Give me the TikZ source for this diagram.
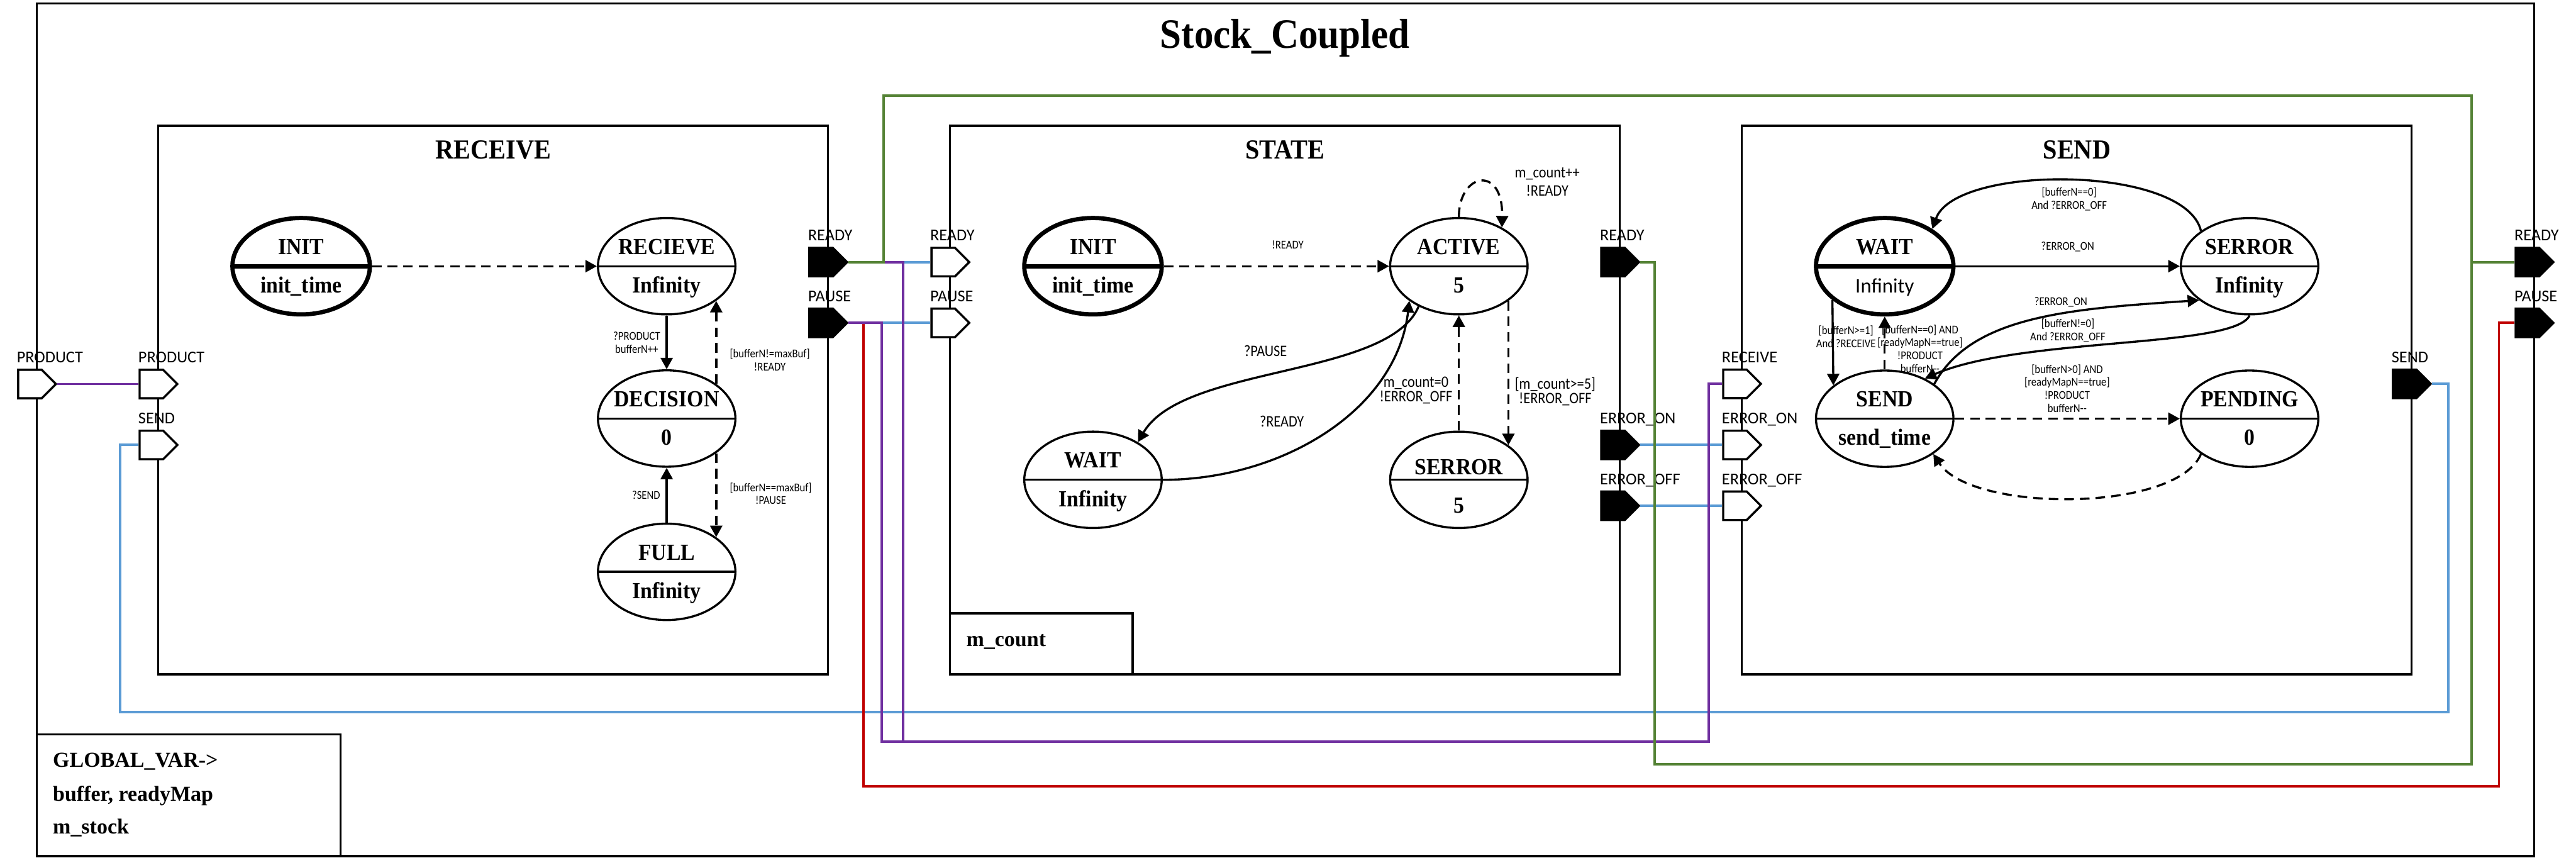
\documentclass[tikz,border=0pt]{standalone}
\usepackage{fontspec}
\setmainfont{Liberation Serif}
\newfontfamily\stfont[FakeStretch=0.92]{Liberation Serif}
\newfontfamily\lblfont{Carlito}
\newfontfamily\trfont[FakeStretch=0.88]{Carlito}
\usetikzlibrary{shapes.geometric,shapes.symbols,arrows.meta}

\definecolor{wirePurple}{RGB}{112,48,160}
\definecolor{wireBlue}{RGB}{91,155,213}
\definecolor{wireGreen}{RGB}{84,130,53}
\definecolor{wireRed}{RGB}{192,0,0}

% two texts of a state, above and below the divider
\newcommand{\stxt}[3][0mm]{\makebox[0pt]{\raisebox{\dimexpr2.16mm-#1\relax}{#2}}\makebox[0pt]{\raisebox{\dimexpr-4.86mm-#1\relax}{#3}}}

\tikzset{
  frame/.style={draw,line width=1.1pt},
  cpltitle/.style={anchor=base,font=\stfont\bfseries\fontsize{21.7}{24}\selectfont},
  boxtitle/.style={anchor=base,font=\stfont\bfseries\fontsize{14.3}{16}\selectfont},
  varlbl/.style={anchor=base west,inner sep=0pt,font=\bfseries\fontsize{11.1}{13}\selectfont},
  state/.style={ellipse,draw,line width=1.1pt,minimum width=25.1mm,minimum height=17.6mm,
    inner sep=0pt,text height=0pt,text depth=0pt,
    font=\stfont\bfseries\fontsize{12}{14}\selectfont,
    path picture={\draw[line width=1.1pt] (path picture bounding box.west) -- (path picture bounding box.east);}},
  initstate/.style={state,line width=2.2pt,
    path picture={\draw[line width=2.2pt] (path picture bounding box.west) -- (path picture bounding box.east);}},
  port/.style={signal,signal to=east,signal from=nowhere,signal pointer angle=90,draw,
    line width=1.1pt,minimum width=6.9mm,minimum height=5.2mm,inner sep=0pt},
  inport/.style={port,fill=white},
  outport/.style={port,fill=black},
  plbl/.style={anchor=base west,inner sep=0pt,xshift=-2.45mm,yshift=1.1mm,
    font=\lblfont\fontsize{8.6}{10}\selectfont},
  wire/.style={line width=1.3pt},
  tr/.style={line width=1.1pt,-{Triangle[length=2.1mm,width=2.2mm]}},
  trd/.style={tr,dash pattern=on 1.75mm off 1.1mm},
  trlbl/.style={font=\trfont\fontsize{6.2}{6.75}\selectfont,align=center,inner sep=1mm},
  trmid/.style={font=\trfont\fontsize{8.3}{7.6}\selectfont,align=center,inner sep=1mm}
}

\begin{document}
\begin{tikzpicture}[x=0.03cm,y=-0.03cm]
  \useasboundingbox (0,0) rectangle (1568,522);

  \newcommand{\RecX}{96.3}
  \newcommand{\StaX}{578.3}
  \newcommand{\SndX}{1060.2}

  % coupled model and its three atomic models
  \draw[frame] (22.4,2.2) rectangle (1542.6,521);
  \node[cpltitle] (cplTitle) at (782.2,29.2) {Stock\_Coupled};
  \draw[frame] (\RecX,76.5) rectangle (\RecX+407.7,410.3);
  \draw[frame] (\StaX,76.5) rectangle (\StaX+407.7,410.3);
  \draw[frame] (\SndX,76.5) rectangle (\SndX+407.7,410.3);
  \node[boxtitle] (recTitle) at (\RecX+204,96.5) {RECEIVE};
  \node[boxtitle] (staTitle) at (\StaX+204,96.5) {STATE};
  \node[boxtitle] (sndTitle) at (\SndX+204,96.5) {SEND};

  \draw[frame] (\StaX,373.3) rectangle (\StaX+111.2,410.3);
  \node[varlbl] (mCount) at (\StaX+9.7,393.3) {m\_count};
  \draw[frame] (22.4,447) rectangle (207.4,521);
  \node[varlbl] (gVar) at (32,467) {GLOBAL\_VAR->};
  \node[varlbl] (gBuf) at (32,487.4) {buffer, readyMap};
  \node[varlbl] (gStock) at (32,507.3) {m\_stock};

  % ports
  \node[inport,label={[plbl]north:PRODUCT}] (oProduct) at (18.2,233.7) {};
  \node[outport,label={[plbl]north:READY}] (oReady) at (1538.4,159.5) {};
  \node[outport,label={[plbl]north:PAUSE}] (oPause) at (1538.4,196.5) {};
  \node[inport,label={[plbl]north:PRODUCT}] (rProductIn) at (\RecX-4.15,233.7) {};
  \node[inport,label={[plbl]north:SEND}] (rSendIn) at (\RecX-4.15,270.8) {};
  \node[outport,label={[plbl]north:READY}] (rReadyOut) at (\RecX+403.5,159.5) {};
  \node[outport,label={[plbl]north:PAUSE}] (rPauseOut) at (\RecX+403.5,196.5) {};
  \node[inport,label={[plbl]north:READY}] (sReadyIn) at (\StaX-4.15,159.5) {};
  \node[inport,label={[plbl]north:PAUSE}] (sPauseIn) at (\StaX-4.15,196.5) {};
  \node[outport,label={[plbl]north:READY}] (sReadyOut) at (\StaX+403.5,159.5) {};
  \node[outport,label={[plbl]north:ERROR\_ON}] (sErrOnOut) at (\StaX+403.5,270.8) {};
  \node[outport,label={[plbl]north:ERROR\_OFF}] (sErrOffOut) at (\StaX+403.5,307.8) {};
  \node[inport,label={[plbl]north:RECEIVE}] (dRecvIn) at (\SndX-4.15,233.6) {};
  \node[inport,label={[plbl]north:ERROR\_ON}] (dErrOnIn) at (\SndX-4.15,270.8) {};
  \node[inport,label={[plbl]north:ERROR\_OFF}] (dErrOffIn) at (\SndX-4.15,307.8) {};
  \node[outport,label={[plbl]north:SEND}] (dSendOut) at (\SndX+403.5,233.6) {};

  % couplings
  \draw[wire,wireBlue] (rReadyOut.east) -- (sReadyIn.west);
  \draw[wire,wireBlue] (rPauseOut.east) -- (sPauseIn.west);
  \draw[wire,wireBlue] (sErrOnOut.east) -- (dErrOnIn.west);
  \draw[wire,wireBlue] (sErrOffOut.east) -- (dErrOffIn.west);
  \draw[wire,wireBlue] (rSendIn.west) -| (73,433.4) -| ([xshift=3mm]dSendOut.east) -- (dSendOut.east);
  \draw[wire,wireRed] (rPauseOut.east) -| (525.7,478.6) -| ([xshift=-2.85mm]oPause.west) -- (oPause.west);
  \draw[wire,wirePurple] (oProduct.east) -- (rProductIn.west);
  \draw[wire,wirePurple] (rReadyOut.east) -| (549.7,451.3) -| ([xshift=-2.5mm]dRecvIn.west) -- (dRecvIn.west);
  \draw[wire,wirePurple] (rPauseOut.east) -| (536.8,451.3) -| ([xshift=-2.5mm]dRecvIn.west) -- (dRecvIn.west);
  \draw[wire,wireGreen] (rReadyOut.east) -| (538,58.2) -| ([xshift=-7.8mm]oReady.west) -- (oReady.west);
  \draw[wire,wireGreen] (sReadyOut.east) -| (1007,465) -| ([xshift=-7.8mm]oReady.west) -- (oReady.west);

  % RECEIVE
  \node[initstate] (rInit) at (\RecX+87,162) {\stxt{INIT}{init\_time}};
  \node[state] (rRecv) at (\RecX+309.5,162) {\stxt{RECIEVE}{Infinity}};
  \node[state] (rDec) at (\RecX+309.5,254.7) {\stxt{DECISION}{0}};
  \node[state] (rFull) at (\RecX+309.5,348) {\stxt{FULL}{Infinity}};
  \draw[trd] (rInit) -- (rRecv);
  \draw[tr] (rRecv) -- node[trlbl,left] {?PRODUCT\\bufferN++} (rDec);
  \draw[trd] (rDec.35) -- node[trlbl,right,pos=.29,xshift=1.3mm] {[bufferN!=maxBuf]\\!READY} (rRecv.-35);
  \draw[trd] (rDec.-35) -- node[trlbl,right,pos=.48,xshift=1.3mm] {[bufferN==maxBuf]\\!PAUSE} (rFull.35);
  \draw[tr] (rFull) -- node[trlbl,left] {?SEND} (rDec);

  % STATE
  \node[initstate] (sInit) at (\StaX+87,162) {\stxt{INIT}{init\_time}};
  \node[state] (sActive) at (\StaX+309.7,162) {\stxt{ACTIVE}{5}};
  \node[state] (sWait) at (\StaX+87,292) {\stxt{WAIT}{Infinity}};
  \node[state] (sErr) at (\StaX+309.7,292) {\stxt[1.2mm]{SERROR}{5}};
  \draw[trd] (sInit) -- node[trlbl,above=2mm,pos=.55] {!READY} (sActive);
  \draw[trd] (sActive.north) .. controls (888,105) and (915,100) ..
    node[trmid,anchor=west,xshift=5mm,pos=.5] {m\_count++\\[1.7pt]!READY} (sActive.42);
  \draw[tr] (sActive.-135) .. controls (845,230) and (720,222) ..
    node[trmid,above=2.5mm,pos=.55] {?PAUSE} (sWait.40);
  \draw[tr] (sWait.east) .. controls (780,292) and (850,250) ..
    node[trmid,above=4mm,pos=.35] {?READY} (sActive.-145);
  \draw[trd] (sErr) -- node[trmid,left,pos=.35] {m\_count=0\\!ERROR\_OFF} (sActive);
  \draw[trd] (sActive.-35) -- node[trmid,right,pos=.63] {[m\_count>=5]\\!ERROR\_OFF} (sErr.35);

  % SEND
  \node[initstate] (dWait) at (\SndX+87,162)
    {\stxt{WAIT}{\lblfont\mdseries\fontsize{10.7}{12}\selectfont Infinity}};
  \node[state] (dErr) at (\SndX+309.1,162) {\stxt{SERROR}{Infinity}};
  \node[state] (dSend) at (\SndX+87,254.8) {\stxt{SEND}{send\_time}};
  \node[state] (dPend) at (\SndX+309.1,254.8) {\stxt{PENDING}{0}};
  \draw[tr] (dWait) -- node[trlbl,above=1.5mm] {?ERROR\_ON} (dErr);
  \draw[tr] (dErr.144) .. controls (1330,100) and (1190,100) ..
    node[trlbl,below] {[bufferN==0]\\And ?ERROR\_OFF} (dWait.38);
  \draw[tr] (dSend.35) .. controls (1200,192) and (1260,188) ..
    node[trlbl,above,pos=.6] {?ERROR\_ON} (dErr.-146);
  \draw[tr] (dErr.south) .. controls (1360,212) and (1230,205) ..
    node[trlbl,above,pos=.62] {[bufferN!=0]\\And ?ERROR\_OFF} (dSend.45);
  \draw[tr] (dWait.-147) -- node[trlbl,pos=.43,xshift=2.4mm] {[bufferN>=1]\\And ?RECEIVE} (dSend.147);
  \draw[trd] (dSend) -- node[trlbl,pos=.39,xshift=6.45mm]
    {[bufferN==0] AND\\{}[readyMapN==true]\\!PRODUCT\\bufferN-{}-} (dWait);
  \draw[trd] (dSend) -- node[trlbl,above]
    {[bufferN>0] AND\\{}[readyMapN==true]\\!PRODUCT\\bufferN-{}-} (dPend);
  \draw[trd] (dPend.-144) .. controls (1325,312) and (1200,312) .. (dSend.-36);
\end{tikzpicture}
\end{document}
